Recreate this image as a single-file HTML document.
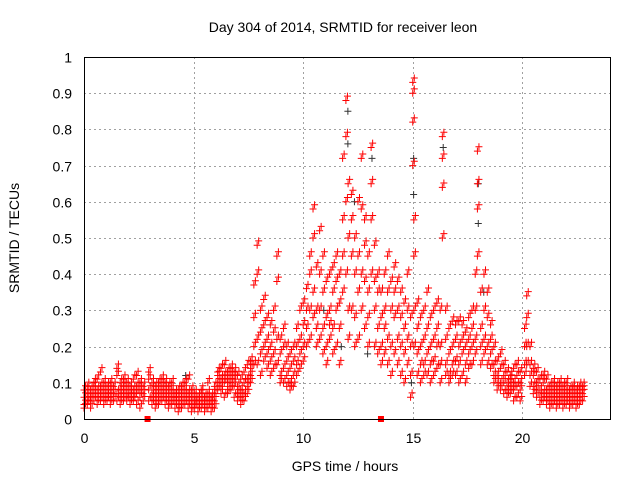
<!DOCTYPE html>
<html><head><meta charset="utf-8">
<style>
body{margin:0;background:#fff;}
svg text{font-family:"Liberation Sans",sans-serif;font-size:14px;fill:#000;}
</style></head>
<body>
<svg id="chart" width="640" height="480">
<rect width="640" height="480" fill="#fff"/>
<text x="343" y="32" text-anchor="middle">Day 304 of 2014, SRMTID for receiver leon</text>
<text x="345" y="471" text-anchor="middle">GPS time / hours</text>
<text transform="translate(19,238) rotate(-90)" text-anchor="middle">SRMTID / TECUs</text>
<g id="grid"></g>
<g id="ticks"></g>
<g id="black"></g>
<g id="red"></g>
<rect x="84.5" y="57.5" width="526" height="362" fill="none" stroke="#000"/>
</svg>
<script>
const xTicks=[0,5,10,15,20];
const yTicks=[0,0.1,0.2,0.3,0.4,0.5,0.6,0.7,0.8,0.9,1];
const yTickLabels=["0","0.1","0.2","0.3","0.4","0.5","0.6","0.7","0.8","0.9","1"];
// each entry: time, then values observed at that time
const redData=[
[0.0,.04,.06,.03,.08],[0.15,.05,.07,.09,.04],[0.3,.06,.08,.03,.05],[0.45,.07,.09,.05,.1],[0.6,.06,.08,.11,.04],
[0.75,.05,.07,.13,.09],[0.9,.06,.08,.1,.04],[1.05,.07,.05,.09,.06],[1.2,.06,.08,.04,.1],[1.35,.07,.09,.05],
[1.5,.14,.12,.07,.05],[1.65,.06,.08,.1,.04],[1.8,.07,.09,.05,.11],[1.95,.06,.08,.1,.05],[2.1,.07,.09,.06,.04],
[2.25,.05,.08,.11,.06],[2.4,.12,.09,.07,.04],[2.55,.06,.08,.03,.1],[2.7,.05,.07,.09],[2.95,.11,.13,.08,.05],
[3.1,.06,.1,.04,.08],[3.25,.07,.09,.05,.03],[3.4,.06,.08,.1,.04],[3.55,.07,.11,.05,.09],[3.7,.06,.08,.04,.1],
[3.85,.05,.07,.03,.09],[4.0,.06,.08,.04,.1],[4.15,.05,.07,.03,.06],[4.3,.04,.06,.08,.02],[4.45,.05,.07,.09,.03],
[4.6,.04,.06,.08,.1],[4.75,.03,.05,.07,.11],[4.9,.04,.06,.02,.08],[5.05,.03,.05,.07,.04],[5.2,.04,.06,.02,.05],
[5.35,.03,.05,.07,.08],[5.5,.04,.06,.02,.05],[5.65,.03,.05,.07,.1],[5.8,.04,.06,.02,.05],[5.95,.05,.03,.07,.09],
[6.1,.1,.12,.08,.13],[6.25,.09,.11,.07,.14],[6.4,.1,.12,.06,.15],[6.55,.09,.11,.13,.07],[6.7,.1,.12,.14,.08],
[6.85,.09,.11,.13,.06],[7.0,.07,.09,.12,.05],[7.15,.06,.08,.11,.04],[7.3,.05,.07,.1,.13],[7.45,.09,.11,.15,.07],
[7.6,.12,.16,.1,.14],[7.75,.15,.2,.28,.37],[7.9,.48,.4,.22,.15],[8.05,.18,.24,.3,.12],[8.2,.2,.26,.16,.33],
[8.35,.18,.22,.14,.28],[8.5,.16,.2,.26,.12],[8.65,.24,.3,.18,.14],[8.8,.45,.38,.22,.15],[8.95,.12,.18,.1,.22],
[9.1,.14,.2,.1,.25],[9.25,.12,.16,.09,.2],[9.4,.1,.14,.18,.08],[9.55,.12,.16,.2,.09],[9.7,.15,.2,.25,.12],
[9.85,.18,.22,.3,.14],[10.0,.2,.26,.32,.16],[10.15,.25,.3,.36,.2],[10.3,.3,.4,.22,.45],[10.45,.35,.5,.58,.28],
[10.6,.3,.42,.2,.25],[10.75,.4,.52,.3,.22],[10.9,.35,.45,.25,.18],[11.05,.28,.38,.2,.15],[11.2,.3,.4,.22,.26],
[11.35,.25,.35,.42,.18],[11.5,.3,.45,.38,.2],[11.65,.25,.32,.4,.15],[11.8,.45,.55,.72,.35],[11.95,.88,.78,.6,.4],
[12.05,.65,.5,.3,.22],[12.2,.55,.62,.45,.3],[12.35,.4,.5,.28,.2],[12.5,.6,.45,.35,.22],[12.65,.72,.58,.4,.3],
[12.8,.55,.48,.38,.25],[12.95,.45,.35,.28,.2],[13.1,.75,.65,.55,.4],[13.25,.48,.38,.3,.2],[13.4,.35,.25,.18,.4],
[13.55,.2,.28,.35,.15],[13.7,.25,.3,.4,.18],[13.85,.45,.35,.22,.15],[14.0,.3,.38,.2,.12],[14.15,.35,.28,.18,.42],
[14.3,.22,.3,.15,.38],[14.45,.28,.2,.12,.35],[14.6,.25,.32,.18,.1],[14.75,.22,.3,.15,.4],[14.9,.2,.28,.06,.12],
[15.0,.93,.9,.82,.7],[15.05,.55,.45,.3,.2],[15.2,.25,.18,.12,.32],[15.35,.2,.15,.1,.28],[15.5,.22,.3,.15,.12],
[15.65,.18,.25,.12,.35],[15.8,.2,.28,.15,.1],[15.95,.22,.3,.16,.12],[16.1,.25,.2,.14,.32],[16.25,.3,.2,.15,.1],
[16.35,.78,.72,.64,.5],[16.5,.3,.22,.15,.12],[16.65,.18,.25,.12,.1],[16.8,.2,.15,.27,.12],[16.95,.22,.16,.12,.26],
[17.1,.2,.15,.1,.27],[17.25,.18,.22,.12,.26],[17.4,.15,.2,.1,.24],[17.55,.18,.22,.14,.28],[17.7,.25,.2,.15,.3],
[17.85,.3,.22,.18,.4],[17.95,.74,.65,.58,.45],[18.1,.35,.25,.2,.15],[18.25,.4,.3,.22,.18],[18.4,.28,.2,.15,.35],
[18.55,.22,.18,.14,.26],[18.7,.15,.12,.2,.1],[18.85,.12,.1,.16,.08],[19.0,.1,.14,.08,.18],[19.15,.12,.1,.07,.15],
[19.3,.1,.08,.13,.06],[19.45,.09,.12,.07,.11],[19.6,.1,.14,.08,.05],[19.75,.12,.09,.15,.06],[19.9,.1,.08,.13,.05],
[20.1,.2,.25,.12,.15],[20.2,.34,.28,.2,.15],[20.35,.15,.12,.09,.2],[20.5,.12,.09,.07,.14],[20.65,.1,.08,.06,.13],
[20.8,.08,.06,.11,.04],[20.95,.1,.07,.05,.12],[21.1,.08,.06,.04,.11],[21.25,.07,.05,.09,.03],[21.4,.06,.08,.04,.1],
[21.55,.07,.05,.09,.03],[21.7,.06,.08,.04,.1],[21.85,.05,.07,.03,.09],[22.0,.06,.08,.04,.1],[22.15,.05,.07,.03,.08],
[22.3,.06,.08,.04,.09],[22.45,.05,.07,.03,.08],[22.6,.06,.08,.09,.04],[22.75,.07,.09,.05,.08]
];
const blackData=[
[4.6,.12],[10.9,.3],[12.0,.85,.76],[12.3,.6],[13.1,.72],[14.9,.1],[15.0,.72,.62],[16.35,.75],[17.95,.65,.54],[18.2,.35],[12.9,.18],[11.7,.2]
];
const squares=[2.9,13.55];
const X0=84,X1=610,Y0=419,Y1=57;
function xs(t){return X0+(t/24)*(X1-X0);}
function ys(v){return Y0-v*(Y0-Y1);}
const NS="http://www.w3.org/2000/svg";
const grid=document.getElementById('grid'),ticks=document.getElementById('ticks');
xTicks.forEach(t=>{
  const x=Math.round(xs(t))+0.5;
  if(t>0){const l=document.createElementNS(NS,'line');
  l.setAttribute('x1',x);l.setAttribute('x2',x);l.setAttribute('y1',Y1);l.setAttribute('y2',Y0);
  l.setAttribute('stroke','#a0a0a0');l.setAttribute('stroke-dasharray','2,3');
  
  
  grid.appendChild(l);}
  const tx=document.createElementNS(NS,'text');
  tx.setAttribute('x',x);tx.setAttribute('y',443);tx.setAttribute('text-anchor','middle');tx.textContent=t;
  
  
  ticks.appendChild(tx);
});
yTicks.forEach((v,i)=>{
  const y=Math.round(ys(v))+0.5;
  if(v>0&&v<1){const l=document.createElementNS(NS,'line');
  l.setAttribute('x1',X0);l.setAttribute('x2',X1);l.setAttribute('y1',y);l.setAttribute('y2',y);
  l.setAttribute('stroke','#a0a0a0');l.setAttribute('stroke-dasharray','2,3');
  
  
  grid.appendChild(l);}
  const tx=document.createElementNS(NS,'text');
  tx.setAttribute('x',72);tx.setAttribute('y',y+5);tx.setAttribute('text-anchor','end');tx.textContent=yTickLabels[i];
  
  
  ticks.appendChild(tx);
});
function plus(g,t,v,c){
  const x=xs(t),y=ys(v);
  const p=document.createElementNS(NS,'path');
  p.setAttribute('d',`M${x-3.5},${y}H${x+3.5}M${x},${y-3.5}V${y+3.5}`);
  p.setAttribute('stroke',c);p.setAttribute('stroke-width','1');
  
  
  g.appendChild(p);
}
const bg=document.getElementById('black'),rg=document.getElementById('red');
blackData.forEach(r=>{for(let i=1;i<r.length;i++)plus(bg,r[0]+0.04,r[i],'#333');});
redData.forEach(r=>{for(let i=1;i<r.length;i++){plus(rg,r[0],r[i],'#f00');plus(rg,r[0]+0.07,r[i]+0.012,'#f00');}});
squares.forEach(t=>{
  const s=document.createElementNS(NS,'rect');
  s.setAttribute('x',xs(t)-3);s.setAttribute('y',Y0-3);s.setAttribute('width',6);s.setAttribute('height',6);
  s.setAttribute('fill','#f00');
  
  
  rg.appendChild(s);
});
</script>
</body></html>
